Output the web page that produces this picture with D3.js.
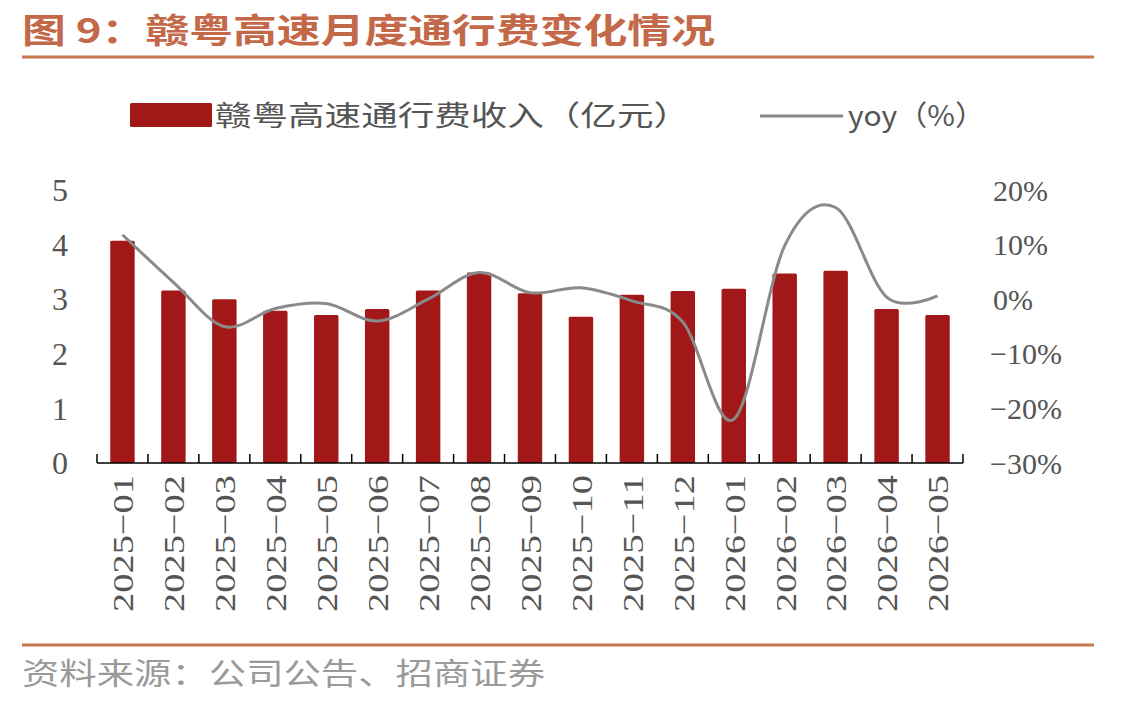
<!DOCTYPE html>
<html>
<head>
<meta charset="utf-8">
<script src="https://cdn.jsdelivr.net/npm/d3@7"></script>
<style>
  body { margin: 0; background: #fff; }
  svg { display: block; }
</style>
</head>
<body>
<div id="chart"></div>
<script>
// 月份
const months = ["2025-01", "2025-02", "2025-03", "2025-04", "2025-05", "2025-06", "2025-07", "2025-08", "2025-09",
  "2025-10", "2025-11", "2025-12", "2026-01", "2026-02", "2026-03", "2026-04", "2026-05"];
// 通行费收入（亿元）
const revenue = [4.07, 3.16, 3.00, 2.79, 2.71, 2.82, 3.16, 3.49, 3.11, 2.68, 3.08, 3.15, 3.19, 3.47, 3.52, 2.82, 2.71];
// yoy（%）
const yoy = [11.8, 3.1, -5.0, -1.7, -0.8, -4.0, 0.0, 4.9, 1.2, 2.1, -0.3, -4.2, -22.0, 9.8, 16.8, 0.4, 0.6];
const leftTicks = [0, 1, 2, 3, 4, 5];
const rightTicks = [-30, -20, -10, 0, 10, 20];

const W = 1122, H = 705;
const cnFont = "'Noto Sans CJK SC', sans-serif";
const numFont = "'Liberation Serif', 'DejaVu Serif', serif";
const accent = "#c8764f";

const svg = d3.select("#chart").append("svg")
  .attr("width", W).attr("height", H);

// 标题
svg.append("text")
  .attr("x", 22).attr("y", 43)
  .attr("textLength", 693).attr("lengthAdjust", "spacingAndGlyphs")
  .style("font-family", cnFont).style("font-size", "34px").style("font-weight", "bold")
  .style("fill", "#c4684a")
  .text("图 9：赣粤高速月度通行费变化情况");
svg.append("line").attr("x1", 22).attr("x2", 1094).attr("y1", 57).attr("y2", 57)
  .attr("stroke", accent).attr("stroke-width", 3);

// scales
const x = d3.scaleBand().domain(months).range([97, 963]).paddingInner(0.52).paddingOuter(0.26);
const xb = d3.scaleBand().domain(months).range([97, 963]);
const yL = d3.scaleLinear().domain([0, 5]).range([463, 190]);
const yR = d3.scaleLinear().domain([-30, 20]).range([463, 190]);

// bars
svg.append("g").selectAll("rect")
  .data(revenue)
  .enter().append("rect")
  .attr("x", (d, i) => x(months[i]))
  .attr("width", x.bandwidth())
  .attr("y", d => yL(d))
  .attr("height", d => yL(0) - yL(d))
  .attr("rx", 1.5)
  .attr("fill", "#a21818");

// yoy line
const line = d3.line()
  .x((d, i) => xb(months[i]) + xb.bandwidth() / 2)
  .y(d => yR(d))
  .curve(d3.curveCardinal.tension(0));
svg.append("path")
  .datum(yoy)
  .attr("d", line)
  .attr("fill", "none")
  .attr("stroke", "#8a8a8a")
  .attr("stroke-width", 3);

// x axis
const xAxis = svg.append("g").attr("transform", "translate(0,463)");
xAxis.append("line").attr("x1", 97).attr("x2", 963).attr("y1", 0).attr("y2", 0)
  .attr("stroke", "#000").attr("stroke-width", 1.5);
const tickPos = months.map(m => xb(m)).concat([963]);
xAxis.selectAll("line.tick")
  .data(tickPos)
  .enter().append("line")
  .attr("class", "tick")
  .attr("x1", d => d).attr("x2", d => d)
  .attr("y1", 0).attr("y2", -9)
  .attr("stroke", "#000").attr("stroke-width", 1.5);

xAxis.selectAll("text")
  .data(months)
  .enter().append("text")
  .attr("transform", d => "translate(" + (xb(d) + xb.bandwidth() / 2) + ",12)rotate(-90)")
  .attr("text-anchor", "end")
  .attr("dy", "0.36em")
  .attr("textLength", 137).attr("lengthAdjust", "spacingAndGlyphs")
  .style("font-family", numFont).style("font-size", "30px").style("fill", "#555")
  .text(d => d.replace("-", "−"));

// left axis labels
svg.append("g").selectAll("text")
  .data(leftTicks)
  .enter().append("text")
  .attr("x", 68).attr("y", d => yL(d))
  .attr("dy", "0.35em")
  .attr("text-anchor", "end")
  .style("font-family", numFont).style("font-size", "32px").style("fill", "#555")
  .text(d => d);

// right axis labels
svg.append("g").selectAll("text")
  .data(rightTicks)
  .enter().append("text")
  .attr("x", d => d < 0 ? 990 : 993).attr("y", d => yR(d))
  .attr("dy", "0.35em")
  .style("font-family", numFont).style("font-size", "30px").style("fill", "#555")
  .text(d => (d < 0 ? "−" + Math.abs(d) : d) + "%");

// legend
svg.append("rect").attr("x", 130).attr("y", 103).attr("width", 82).attr("height", 24)
  .attr("rx", 1.5).attr("fill", "#a21818");
svg.append("text")
  .attr("x", 215).attr("y", 126)
  .attr("textLength", 475).attr("lengthAdjust", "spacingAndGlyphs")
  .style("font-family", cnFont).style("font-size", "28px").style("fill", "#555")
  .text("赣粤高速通行费收入（亿元）");
svg.append("line").attr("x1", 760).attr("x2", 843).attr("y1", 116).attr("y2", 116)
  .attr("stroke", "#8a8a8a").attr("stroke-width", 3);
svg.append("text")
  .attr("x", 848).attr("y", 126)
  .attr("textLength", 137).attr("lengthAdjust", "spacingAndGlyphs")
  .style("font-family", cnFont).style("font-size", "28px").style("fill", "#555")
  .text("yoy（%）");

// 资料来源
svg.append("line").attr("x1", 22).attr("x2", 1094).attr("y1", 645).attr("y2", 645)
  .attr("stroke", accent).attr("stroke-width", 3);
svg.append("text")
  .attr("x", 22).attr("y", 684)
  .attr("textLength", 523).attr("lengthAdjust", "spacingAndGlyphs")
  .style("font-family", cnFont).style("font-size", "30px").style("fill", "#9a9a9a")
  .text("资料来源：公司公告、招商证券");
</script>
</body>
</html>
